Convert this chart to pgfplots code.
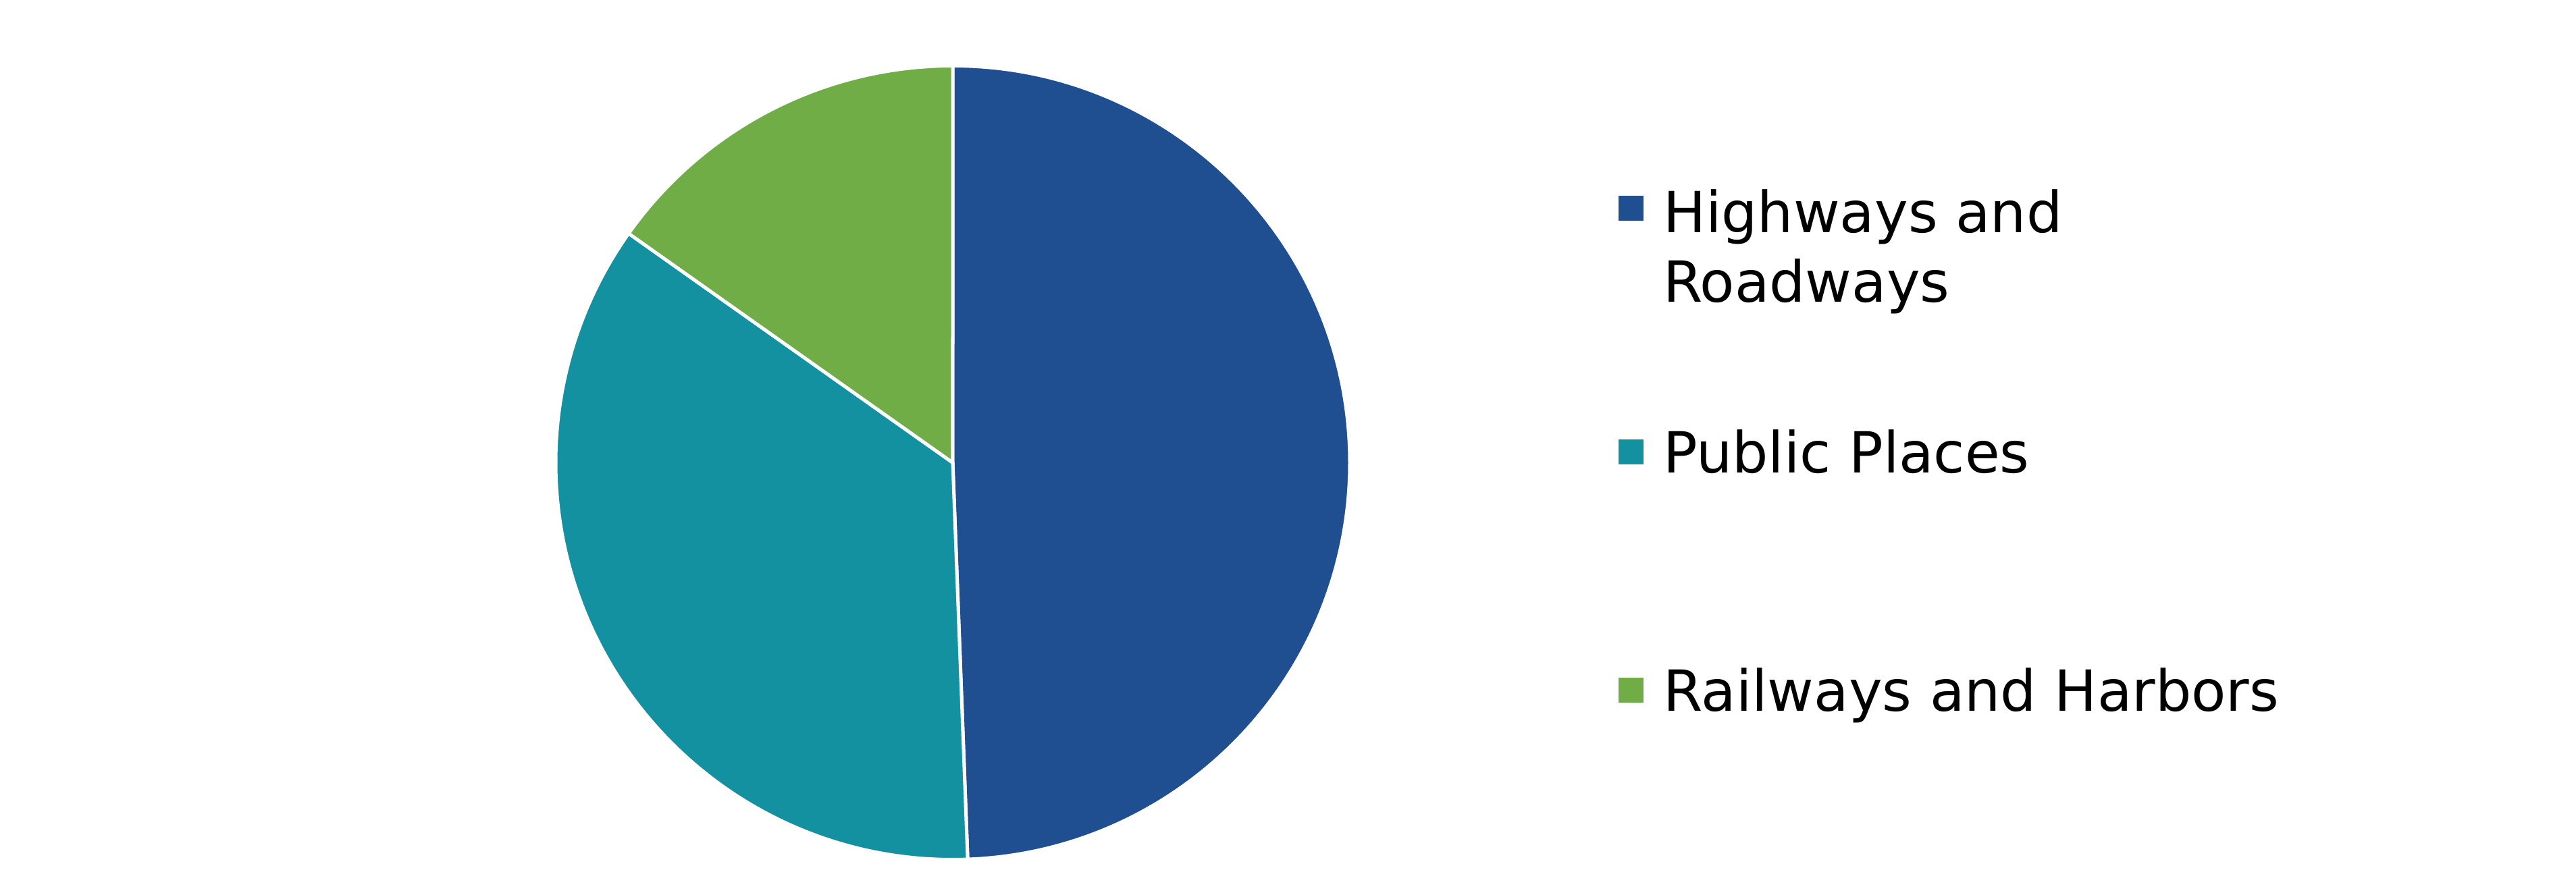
\documentclass[border=0pt]{standalone}
\usepackage{pgfplots}
\pgfplotsset{compat=1.18}
\usepackage{pgfplotstable}
\usepackage{fontspec}
\setmainfont{DejaVu Sans}

\definecolor{hwblue}{RGB}{31,78,145}
\definecolor{pubteal}{RGB}{19,145,160}
\definecolor{railgreen}{RGB}{112,173,71}

% shares of the pie (percent)
\pgfplotstableread{
label    value
Highways 49.4
Public   35.4
Railways 15.2
}\piedata

\begin{document}
\begin{tikzpicture}
\pgfplotstablegetelem{0}{value}\of\piedata \let\va\pgfplotsretval
\pgfplotstablegetelem{1}{value}\of\piedata \let\vb\pgfplotsretval
\pgfplotstablegetelem{2}{value}\of\piedata \let\vc\pgfplotsretval
\pgfmathsetmacro\aA{90}
\pgfmathsetmacro\aB{90-3.6*\va}
\pgfmathsetmacro\aC{\aB-3.6*\vb}
\pgfmathsetmacro\aD{\aC-3.6*\vc}
\def\R{117.6pt}
\useasboundingbox (-282.2pt,-126.6pt) rectangle (480.8pt,138pt);
\begin{axis}[
  hide axis,
  scale only axis,
  width=235.2pt, height=235.2pt,
  xmin=-1, xmax=1, ymin=-1, ymax=1,
  at={(0pt,0.9pt)}, anchor=center,
  clip=false,
]
\fill[hwblue, draw=white, line width=1pt, line join=round]
  (axis cs:0,0) -- (axis cs:{cos(\aA)},{sin(\aA)})
  arc[start angle=\aA, end angle=\aB, radius=\R] -- cycle;
\fill[pubteal, draw=white, line width=1pt, line join=round]
  (axis cs:0,0) -- (axis cs:{cos(\aB)},{sin(\aB)})
  arc[start angle=\aB, end angle=\aC, radius=\R] -- cycle;
\fill[railgreen, draw=white, line width=1pt, line join=round]
  (axis cs:0,0) -- (axis cs:{cos(\aC)},{sin(\aC)})
  arc[start angle=\aC, end angle=\aD, radius=\R] -- cycle;
\end{axis}

% legend
\begin{scope}[every node/.style={anchor=base west, inner sep=0pt,
    font=\fontsize{16.8pt}{20.6pt}\selectfont}]
  \fill[hwblue] (197.2pt,72.5pt) rectangle ++(7.4pt,7.4pt);
  \node at (210.2pt,69pt) {Highways and};
  \node at (210.2pt,48.4pt) {Roadways};
  \fill[pubteal] (197.2pt,0.4pt) rectangle ++(7.4pt,7.4pt);
  \node at (210.2pt,-2.2pt) {Public Places};
  \fill[railgreen] (197.2pt,-70.2pt) rectangle ++(7.4pt,7.4pt);
  \node at (210.2pt,-72.8pt) {Railways and Harbors};
\end{scope}
\end{tikzpicture}
\end{document}
